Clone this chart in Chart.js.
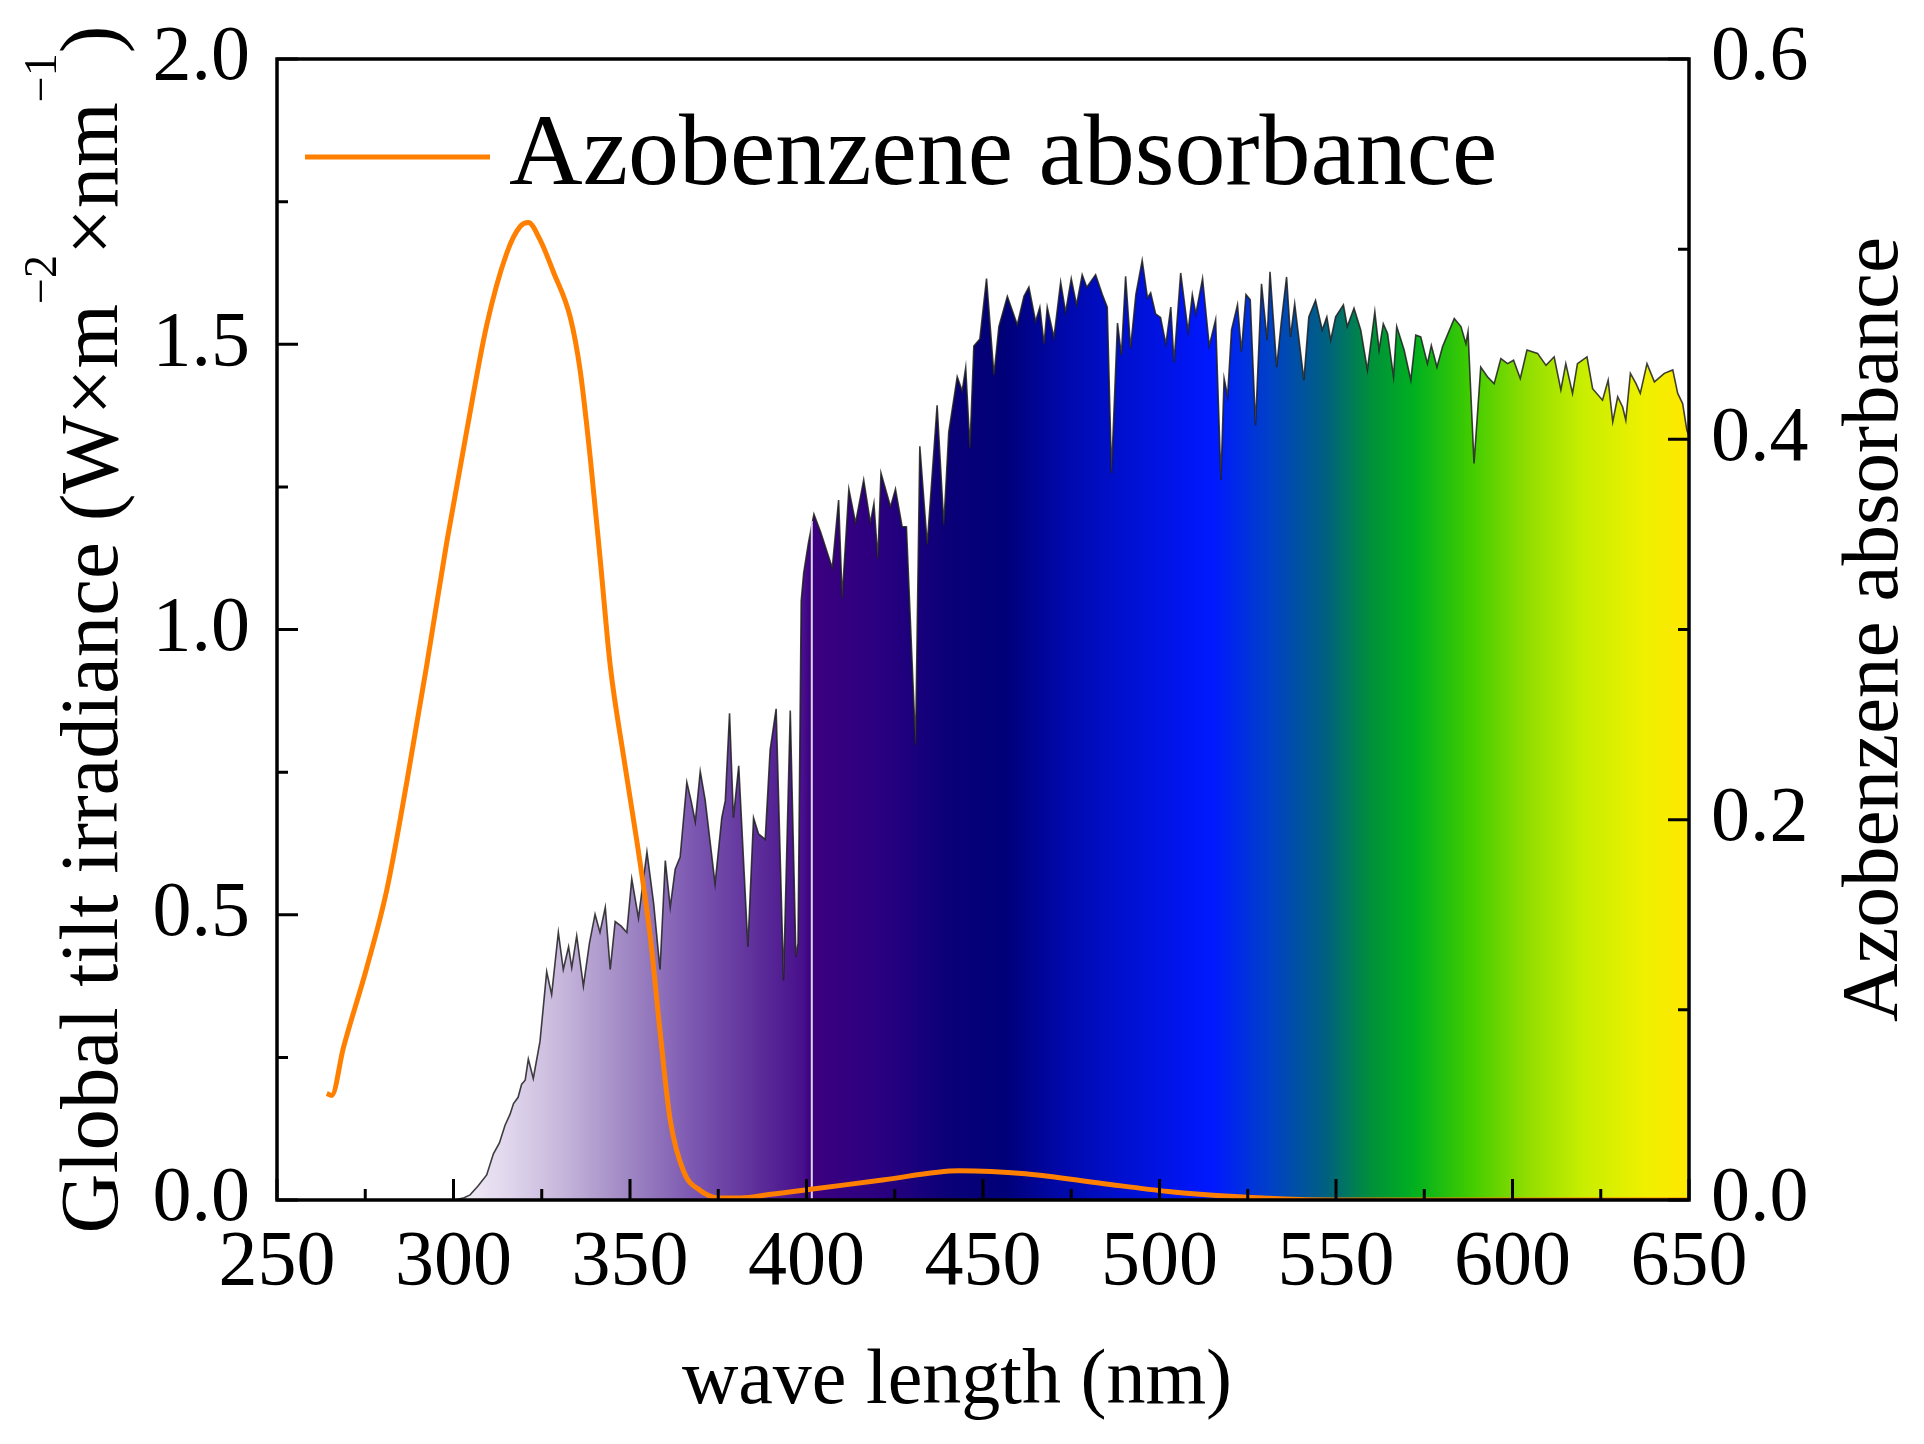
<!DOCTYPE html>
<html>
<head>
<meta charset="utf-8">
<title>Global tilt irradiance and azobenzene absorbance</title>
<script src="https://cdn.jsdelivr.net/npm/chart.js@4.4.1/dist/chart.umd.min.js"></script>
<style>
  html, body { margin: 0; padding: 0; background: #fff; }
  #chart { display: block; width: 1924px; height: 1444px; }
</style>
</head>
<body>
<canvas id="chart" width="1924" height="1444"></canvas>
<script>
// Solar spectrum (global tilt), wavelength in nm and irradiance in W m^-2 nm^-1
const specWl = [
  300.5, 303, 304.7, 307, 309.4, 311.3, 313, 314.6, 316, 317, 318.3, 319.3, 320.3, 321.2, 322.6,
  324.5, 326.4, 327.8, 329.7, 331.1, 332.6, 333.5, 334.9, 336.8, 338.5, 340.1, 341.5, 343, 344.4,
  345.8, 347.5, 349.1, 350.5, 352.4, 354.8, 356.7, 358.5, 360, 361.4, 362.8, 364.2, 366.1, 367.3,
  368.5, 369.9, 371.3, 374.1, 376, 377, 378.2, 379.3, 380.8, 383.4, 385, 386.4, 388.3, 389.7,
  391.4, 393.5, 395.4, 397, 397.6, 398.5, 399.2, 400.5, 402.1, 404, 407.3, 409.1, 410.1, 412,
  413.9, 416.2, 418.1, 419.1, 420.2, 421.1, 423.8, 425.2, 427.1, 428.3, 430.9, 432.1, 434.2, 437,
  438.9, 440.3, 442.7, 444.1, 445.1, 446.3, 447.4, 449.1, 451, 453.1, 454.5, 456.9, 459.7, 461.6,
  463, 464.9, 466.1, 467.3, 468.2, 470.1, 472, 473.4, 475, 476.5, 478.1, 479.4, 481.9, 483.8,
  485.2, 486.4, 488.1, 489.2, 490.4, 491.8, 493.3, 495.1, 496.6, 497.5, 498.9, 500.3, 501.8, 503.2,
  504.1, 506, 508.1, 509.3, 510.3, 512.2, 514.1, 515.9, 517.4, 518.3, 519.3, 520.4, 522.1, 523.2,
  524.5, 525.7, 527.2, 528.9, 530.5, 531.3, 533.2, 534.5, 536, 537.1, 538.3, 540.9, 542.3, 544.2,
  546.1, 547.4, 548.5, 549.9, 552.1, 553.2, 555.1, 557, 558.9, 561, 562.2, 563.4, 564.6, 566.3,
  567.2, 569.3, 571.2, 572.6, 574, 575.9, 577, 578.6, 580.2, 583.5, 585.4, 586.8, 587.4, 589.1,
  591, 592.9, 594.8, 596.7, 598.6, 600.3, 602.2, 604.1, 607.1, 609.5, 611.8, 613.7, 615.1, 617,
  618.4, 621.1, 622.7, 625.5, 627.1, 628.4, 629.8, 631.2, 632.1, 633.4, 635, 636.2, 638.1, 640.2,
  643, 645.4, 646.8, 648.2, 649.4, 650
];
const specIrr = [
  0, 0.004, 0.009, 0.025, 0.044, 0.081, 0.10, 0.131, 0.15, 0.169, 0.18, 0.203, 0.21, 0.247, 0.213,
  0.278, 0.400, 0.360, 0.469, 0.404, 0.444, 0.407, 0.463, 0.375, 0.450, 0.501, 0.469, 0.513, 0.404,
  0.488, 0.480, 0.469, 0.563, 0.494, 0.610, 0.520, 0.404, 0.595, 0.513, 0.580, 0.601, 0.732, 0.700,
  0.663, 0.751, 0.701, 0.554, 0.670, 0.700, 0.853, 0.670, 0.761, 0.444, 0.670, 0.642, 0.632, 0.789,
  0.861, 0.385, 0.858, 0.426, 0.450, 1.050, 1.099, 1.150, 1.202, 1.171, 1.108, 1.227, 1.055, 1.246,
  1.187, 1.262, 1.187, 1.221, 1.124, 1.274, 1.215, 1.246, 1.180, 1.180, 0.798, 1.321, 1.149, 1.393,
  1.183, 1.346, 1.443, 1.418, 1.459, 1.318, 1.497, 1.509, 1.615, 1.446, 1.531, 1.584, 1.534, 1.584,
  1.600, 1.540, 1.565, 1.500, 1.565, 1.512, 1.609, 1.556, 1.615, 1.569, 1.622, 1.600, 1.622, 1.587,
  1.565, 1.274, 1.537, 1.481, 1.619, 1.493, 1.587, 1.647, 1.581, 1.590, 1.553, 1.547, 1.500, 1.565,
  1.468, 1.625, 1.522, 1.587, 1.553, 1.615, 1.497, 1.543, 1.262, 1.440, 1.409, 1.525, 1.569, 1.487,
  1.587, 1.578, 1.358, 1.606, 1.507, 1.627, 1.460, 1.539, 1.618, 1.513, 1.571, 1.437, 1.548, 1.577,
  1.525, 1.548, 1.507, 1.548, 1.569, 1.531, 1.563, 1.525, 1.455, 1.557, 1.490, 1.536, 1.519, 1.443,
  1.531, 1.490, 1.437, 1.516, 1.513, 1.466, 1.498, 1.460, 1.496, 1.545, 1.531, 1.501, 1.522, 1.291,
  1.460, 1.443, 1.431, 1.475, 1.466, 1.472, 1.440, 1.490, 1.484, 1.463, 1.478, 1.420, 1.466, 1.414,
  1.466, 1.478, 1.422, 1.402, 1.437, 1.364, 1.408, 1.390, 1.367, 1.449, 1.431, 1.414, 1.466, 1.434,
  1.449, 1.455, 1.414, 1.396, 1.349, 1.340
];

// Azobenzene absorbance (right axis)
const absWl = [
  264.1, 265.5, 268.8, 275.4, 281.1, 286.7, 292.4, 298.1, 303.8, 309.4, 315.1, 318.9, 321.2, 324.5,
  328.3, 333.1, 335.9, 338.7, 341.6, 344.4, 348.2, 352, 355.7, 358.6, 361.4, 365.2, 369.9, 375.6,
  381.3, 390, 401.2, 421.5, 443.3, 462, 483.8, 502.5, 521.3, 540, 560, 600, 650
];
const absVal = [
  0.056, 0.055, 0.080, 0.122, 0.163, 0.219, 0.281, 0.346, 0.405, 0.460, 0.498, 0.512, 0.514, 0.505,
  0.488, 0.464, 0.436, 0.391, 0.336, 0.281, 0.233, 0.188, 0.139, 0.087, 0.042, 0.015, 0.005, 0.001,
  0.001, 0.003, 0.0056, 0.0105, 0.0154, 0.0138, 0.0087, 0.0045, 0.0018, 0.0003, 0, 0, 0
];

// seam where two spectrum segments meet
const seamWl = [401.5, 401.5];
const seamIrr = [0, 1.19];

// tick values
const xTicks = [250, 300, 350, 400, 450, 500, 550, 600, 650];
const xMinor = [275, 325, 375, 425, 475, 525, 575, 625];
const yTicks = [0, 0.5, 1.0, 1.5, 2.0];
const yMinor = [0.25, 0.75, 1.25, 1.75];
const y2Ticks = [0, 0.2, 0.4, 0.6];
const y2Minor = [0.1, 0.3, 0.5];

// spectral colour stops for the fill
const gradWl = [300, 314, 330, 349, 369, 388, 399, 401, 421, 440, 456, 472, 490, 515, 531, 547, 560, 572, 588, 604, 620, 638, 650];
const gradColors = ['#f4f0f8', '#e2d9ee', '#c8b8dc', '#a088c4', '#7a55b0', '#5a2a98', '#48108c', '#3c0080', '#2a0080',
  '#0a0078', '#000078', '#0008a8', '#0010d0', '#0018ff', '#0040c8', '#006080', '#00903a', '#00b020', '#40cc00',
  '#90dd00', '#c8ee00', '#f0f000', '#ffe800'];

const FONT = '"Liberation Serif", "Times New Roman", serif';
const ORANGE = '#ff8000';

const toPoints = (xs, ys) => xs.map((x, i) => ({ x: x, y: ys[i] }));

function spectrumFill(context) {
  const chart = context.chart;
  const area = chart.chartArea;
  if (!area) return null;
  const xs = chart.scales.x;
  const x0 = xs.getPixelForValue(250);
  const x1 = xs.getPixelForValue(650);
  const g = chart.ctx.createLinearGradient(x0, 0, x1, 0);
  gradWl.forEach((wl, i) => g.addColorStop((wl - 250) / 400, gradColors[i]));
  return g;
}

// frame and inward tick marks
const frameTicks = {
  id: 'frameTicks',
  afterDatasetsDraw(chart) {
    const { ctx, chartArea: a, scales } = chart;
    ctx.save();
    ctx.strokeStyle = '#000';
    ctx.lineWidth = 3;
    ctx.beginPath();
    const tick = (list, len, fn) => list.forEach(v => fn(v, len));
    tick(xTicks, 21, (v, l) => { const p = scales.x.getPixelForValue(v); ctx.moveTo(p, a.bottom); ctx.lineTo(p, a.bottom - l); });
    tick(xMinor, 11, (v, l) => { const p = scales.x.getPixelForValue(v); ctx.moveTo(p, a.bottom); ctx.lineTo(p, a.bottom - l); });
    tick(yTicks, 21, (v, l) => { const p = scales.y.getPixelForValue(v); ctx.moveTo(a.left, p); ctx.lineTo(a.left + l, p); });
    tick(yMinor, 11, (v, l) => { const p = scales.y.getPixelForValue(v); ctx.moveTo(a.left, p); ctx.lineTo(a.left + l, p); });
    tick(y2Ticks, 21, (v, l) => { const p = scales.y2.getPixelForValue(v); ctx.moveTo(a.right, p); ctx.lineTo(a.right - l, p); });
    tick(y2Minor, 11, (v, l) => { const p = scales.y2.getPixelForValue(v); ctx.moveTo(a.right, p); ctx.lineTo(a.right - l, p); });
    ctx.stroke();
    ctx.lineWidth = 3.5;
    ctx.strokeRect(a.left, a.top, a.right - a.left, a.bottom - a.top);
    ctx.restore();
  }
};

// draws a run of text pieces centred on the origin, superscripts raised and smaller
function drawRich(ctx, parts, size) {
  const supSize = Math.round(size * 0.56);
  const widths = parts.map(p => {
    ctx.font = (p.sup ? supSize : size) + 'px ' + FONT;
    return ctx.measureText(p.t).width;
  });
  const total = widths.reduce((s, w) => s + w, 0);
  let x = -total / 2;
  parts.forEach((p, i) => {
    ctx.font = (p.sup ? supSize : size) + 'px ' + FONT;
    ctx.fillText(p.t, x, p.sup ? -size * 0.74 : 0);
    x += widths[i];
  });
}

const titles = {
  id: 'titles',
  afterDraw(chart) {
    const { ctx, chartArea: a } = chart;
    const midY = (a.top + a.bottom) / 2;
    ctx.save();
    ctx.fillStyle = '#000';
    ctx.textBaseline = 'alphabetic';
    ctx.textAlign = 'left';

    // left axis title
    ctx.save();
    ctx.translate(117, midY);
    ctx.rotate(-Math.PI / 2);
    drawRich(ctx, [
      { t: 'Global tilt irradiance (W\u00d7m' },
      { t: '\u22122', sup: true },
      { t: '\u00d7nm' },
      { t: '\u22121', sup: true },
      { t: ')' }
    ], 83);
    ctx.restore();

    // right axis title
    ctx.save();
    ctx.translate(1897, midY);
    ctx.rotate(-Math.PI / 2);
    drawRich(ctx, [{ t: 'Azobenzene absorbance' }], 81);
    ctx.restore();

    // x axis title
    ctx.save();
    ctx.translate(957, 1403);
    drawRich(ctx, [{ t: 'wave length (nm)' }], 78);
    ctx.restore();

    // legend
    ctx.strokeStyle = ORANGE;
    ctx.lineWidth = 5;
    ctx.beginPath();
    ctx.moveTo(a.left + 28, a.top + 98);
    ctx.lineTo(a.left + 213, a.top + 98);
    ctx.stroke();
    ctx.font = '102px ' + FONT;
    ctx.fillText('Azobenzene absorbance', a.left + 232, a.top + 125);
    ctx.restore();
  }
};

const tickFont = { family: FONT, size: 78 };

// keep the plot box where it is: drop the label overflow padding Chart.js adds
function noOverflow(s) {
  s.paddingTop = 0;
  s.paddingBottom = 0;
  s.paddingLeft = 0;
  s.paddingRight = 0;
}

new Chart(document.getElementById('chart'), {
  type: 'line',
  data: {
    datasets: [
      {
        label: 'Azobenzene absorbance',
        data: toPoints(absWl, absVal),
        yAxisID: 'y2',
        borderColor: ORANGE,
        borderWidth: 5,
        pointRadius: 0,
        cubicInterpolationMode: 'monotone',
        fill: false,
        order: 0
      },
      {
        label: 'seam',
        data: toPoints(seamWl, seamIrr),
        yAxisID: 'y',
        borderColor: '#ddd6e8',
        borderWidth: 2,
        pointRadius: 0,
        fill: false,
        order: 1
      },
      {
        label: 'Global tilt irradiance',
        data: toPoints(specWl, specIrr),
        yAxisID: 'y',
        borderColor: 'rgba(30,30,30,0.85)',
        borderWidth: 1.6,
        backgroundColor: spectrumFill,
        pointRadius: 0,
        tension: 0,
        fill: 'origin',
        order: 2
      }
    ]
  },
  options: {
    responsive: false,
    animation: false,
    devicePixelRatio: 1,
    layout: { padding: { top: 59, left: 0, right: 0, bottom: 0 } },
    plugins: {
      legend: { display: false },
      tooltip: { enabled: false }
    },
    scales: {
      x: {
        type: 'linear',
        min: 250,
        max: 650,
        afterBuildTicks: s => { s.ticks = xTicks.map(v => ({ value: v })); },
        afterFit: s => { s.height = 244; noOverflow(s); },
        ticks: { font: tickFont, color: '#000', padding: 9, maxRotation: 0, callback: v => String(v) },
        grid: { display: false },
        border: { display: false }
      },
      y: {
        position: 'left',
        min: 0,
        max: 2,
        afterBuildTicks: s => { s.ticks = yTicks.map(v => ({ value: v })); },
        afterFit: s => { s.width = 277; noOverflow(s); },
        ticks: { font: tickFont, color: '#000', padding: 19, callback: v => v.toFixed(1) },
        grid: { display: false },
        border: { display: false }
      },
      y2: {
        position: 'right',
        min: 0,
        max: 0.6,
        afterBuildTicks: s => { s.ticks = y2Ticks.map(v => ({ value: v })); },
        afterFit: s => { s.width = 235; noOverflow(s); },
        ticks: { font: tickFont, color: '#000', padding: 14, callback: v => v.toFixed(1) },
        grid: { display: false },
        border: { display: false }
      }
    }
  },
  plugins: [frameTicks, titles]
});
</script>
</body>
</html>
